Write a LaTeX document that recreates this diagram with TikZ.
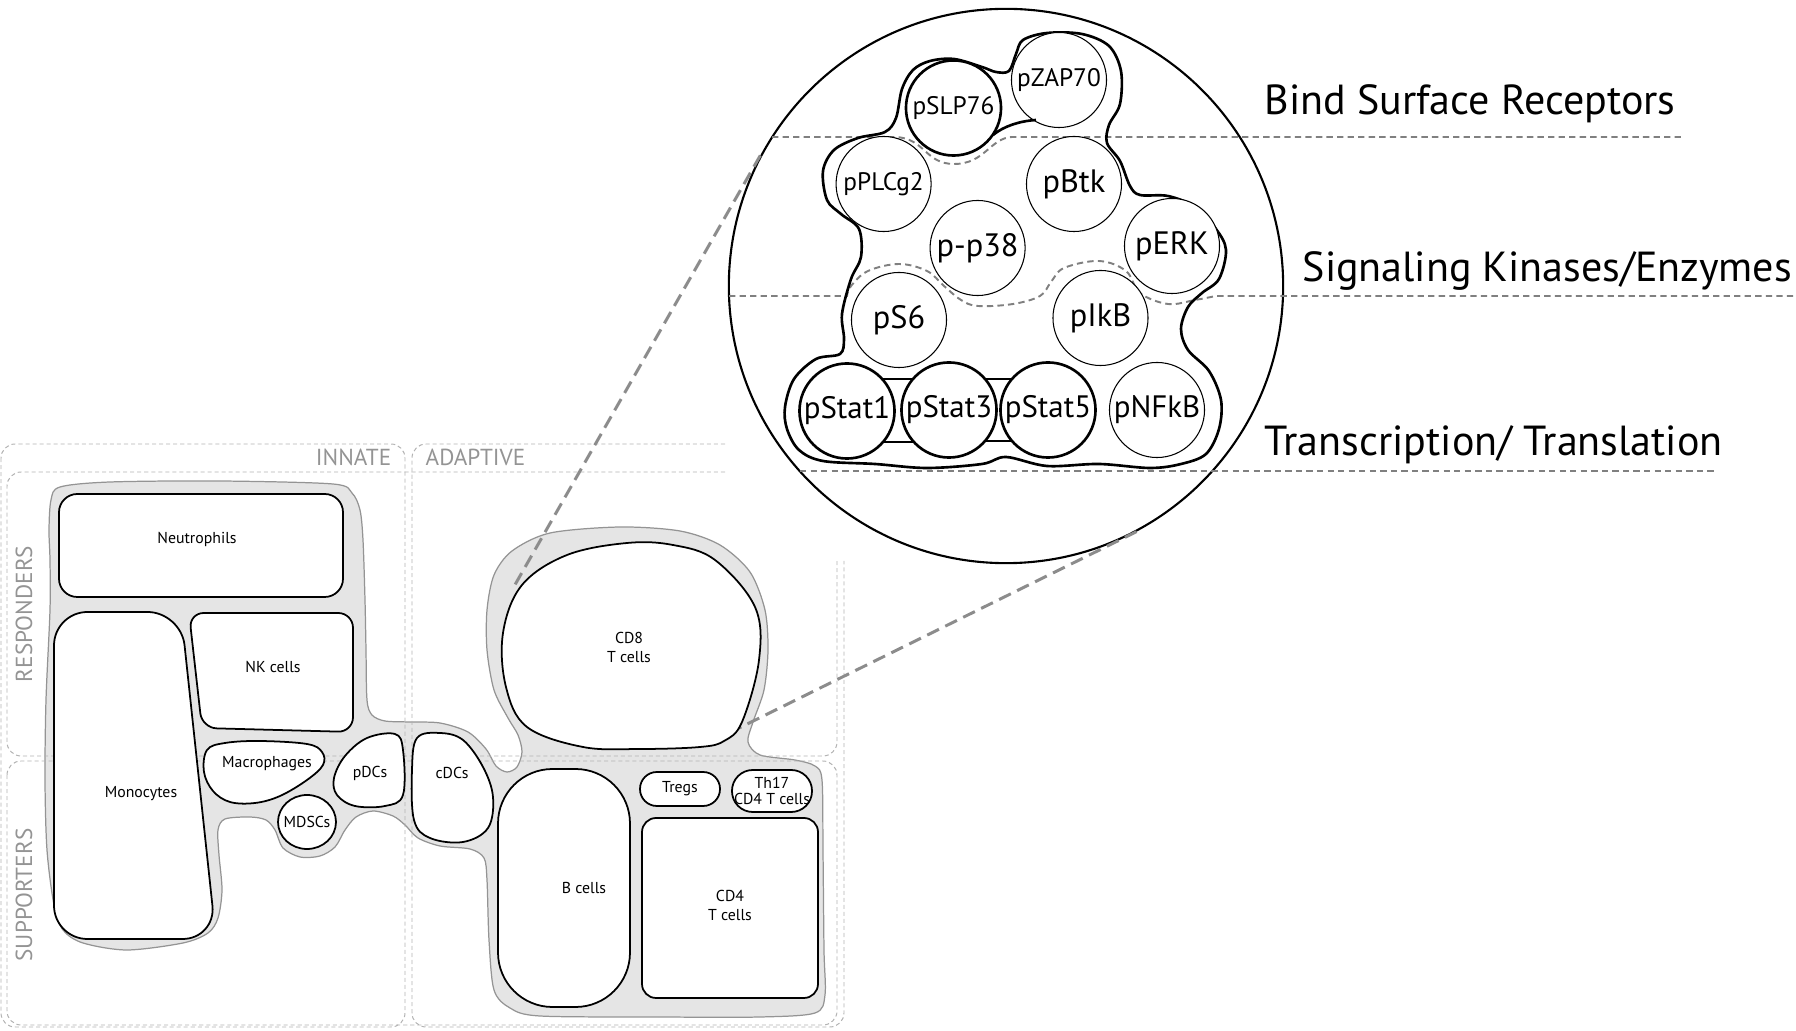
\documentclass[tikz,border=0pt]{standalone}
\usepackage{fontspec}
\setmainfont{PT Sans}
\begin{document}
\begin{tikzpicture}[x=0.01cm,y=-0.01cm,
  frameline/.style={draw=black!30, line width=0.28pt, dash pattern=on 1.15pt off 0.85pt},
  grouplabel/.style={text=black!42, font=\fontsize{6.6}{8}\selectfont, inner sep=0},
  blob/.style={fill=black!10, draw=black!42, line width=0.35pt},
  cell/.style={fill=white, draw=black, line width=0.5pt},
  celltext/.style={font=\fontsize{4.5}{5.4}\selectfont, align=center, inner sep=0},
  zoomline/.style={draw=black!45, line width=0.85pt, dash pattern=on 3.7pt off 2pt},
  layerline/.style={draw=black!50, line width=0.55pt, dash pattern=on 1.8pt off 1.2pt},
  prot/.style={circle, draw=black, fill=white, line width=0.3pt, minimum size=0.95cm, inner sep=0, font=\fontsize{9.2}{10}\selectfont},
  protsmall/.style={prot, font=\fontsize{7.2}{8}\selectfont},
  protstat/.style={prot, font=\fontsize{8.8}{10}\selectfont},
  protgroup/.style={line width=0.75pt},
  contour/.style={draw=black, line width=0.75pt},
  layertext/.style={font=\fontsize{11.95}{13}\selectfont, inner sep=0, anchor=base west},
]
\useasboundingbox (0,0) rectangle (1796,1031);

% ---------- connected tissue blob ----------
\draw[blob] plot[smooth cycle, tension=0.5] coordinates {
 (51,500) (60,487) (110,482) (220,481) (333,484) (352,493) (360,510) (363,540)
 (365,600) (366,650) (367,700) (372,715) (385,721) (410,722) (440,723) (468,732)
 (486,749) (496,766) (507,772) (517,767) (522,752) (518,735) (508,718) (494,690)
 (487,650) (487,610) (494,575) (512,551) (550,533) (620,527) (680,531) (720,545)
 (750,572) (765,610) (768,650) (764,690) (753,722) (748,742) (760,755) (795,760)
 (815,766) (822,780) (823,850) (824,950) (825,995) (815,1013) (760,1017) (658,1017)
 (540,1016) (510,1008) (494,990) (489,940) (487,880) (484,858) (470,849) (440,846)
 (418,838) (405,825) (393,816) (373,811) (356,817) (345,830) (335,847) (320,856)
 (300,857) (283,848) (275,830) (266,820) (250,817) (225,819) (218,830) (219,855)
 (222,890) (218,918) (208,933) (183,943) (127,950) (83,943) (63,930) (54,905)
 (47,850) (45,780) (46,700) (50,610) (50,560) (49,530)};

% ---------- category frames ----------
\draw[frameline, rounded corners=4pt] (1,444) rectangle (405,1027);
\draw[frameline, rounded corners=4pt] (725,444) -- (412,444) -- (412,1027) -- (844,1027) -- (844,561);
\draw[frameline, rounded corners=4pt] (725,472) -- (7,472) -- (7,756) -- (837,756) -- (837,561);
\draw[frameline, rounded corners=4pt] (7,761) rectangle (837,1025);

\node[grouplabel, anchor=base east] (innate) at (392,466) {INNATE};
\node[grouplabel, anchor=base west] (adaptive) at (425,466) {ADAPTIVE};
\node[grouplabel, rotate=90] (responders) at (24,614) {RESPONDERS};
\node[grouplabel, rotate=90] (supporters) at (24,895) {SUPPORTERS};

% ---------- magnified cell ----------
\node[circle, draw=black, line width=0.6pt, minimum size=5.54cm, inner sep=0] (lens) at (1006,286) {};

\coordinate (cdA) at (512,590);
\coordinate (cdB) at (727,734);
\draw[zoomline] (lens.152) -- (cdA);
\draw[zoomline] (lens.-62) -- (cdB);

% ---------- cell populations ----------
\draw[cell, rounded corners=5.2pt] (59,494) rectangle (343,597);
\node[celltext] (neutro) at (197,539) {Neutrophils};

\draw[cell, rounded corners=4.2pt] (189,613) -- (353,613) -- (353,732) -- (202,728) -- cycle;
\node[celltext] (nk) at (273,667) {NK cells};

\draw[cell, rounded corners=9.5pt] (54,612) -- (181,612) -- (216,939) -- (54,939) -- cycle;
\node[celltext] (mono) at (141,794) {Monocytes};

\draw[cell] plot[smooth cycle, tension=0.6] coordinates {
 (207,750) (225,743) (260,741) (307,744) (322,752) (323,765) (307,780) (280,796)
 (255,803) (230,802) (213,791) (204,772)};
\node[celltext] (macro) at (267,764) {Macrophages};

\draw[cell] (307,822) ellipse [x radius=29, y radius=27];
\node[celltext] (mdsc) at (307,822) {MDSCs};

\draw[cell] plot[smooth cycle, tension=0.6] coordinates {
 (367,738) (395,734) (403,750) (403,795) (385,806) (355,806) (337,795) (334,778) (345,756)};
\node[celltext] (pdc) at (370,773) {pDCs};

\draw[cell] plot[smooth cycle, tension=0.6] coordinates {
 (417,738) (440,733) (463,740) (483,767) (493,797) (488,828) (463,842) (430,838) (414,820) (412,770)};
\node[celltext] (cdc) at (452,773) {cDCs};

\draw[cell] plot[smooth cycle, tension=0.6] coordinates {
 (627,543) (567,555) (522,585) (503,633) (506,687) (527,727) (583,747) (640,749)
 (700,747) (724,741) (742,722) (759,660) (755,607) (715,560) (673,545)};
\node[celltext] (cd8) at (629,647) {CD8\\T cells};

\draw[cell, rounded corners=15.5pt] (498,769) rectangle (630,1007);
\node[celltext] (bcell) at (584,888) {B cells};

\draw[cell, rounded corners=4.8pt] (640,772) rectangle (720,806);
\node[celltext] (treg) at (680,789) {Tregs};

\draw[cell, rounded corners=5.9pt] (732,770) rectangle (812,812);
\node[celltext, font=\fontsize{4.5}{4.4}\selectfont] (th17) at (772,791) {Th17\\CD4 T cells};

\draw[cell, rounded corners=4pt] (642,818) rectangle (818,998);
\node[celltext] (cd4) at (730,905) {CD4\\T cells};

% ---------- signalling layers ----------
\draw[layerline] (772,137) -- (895,137) .. controls (925,138) and (925,164) .. (954,164)
  .. controls (985,164) and (990,138) .. (1012,137) -- (1685,137);
\draw[layerline] (729,296) -- plot[smooth, tension=0.6] coordinates {
 (847,296) (851,286) (868,271) (899,264) (927,271) (944,286) (961,300) (978,306)
 (1013,304) (1040,296) (1051,282) (1064,268) (1099,261) (1126,271) (1140,293)
 (1168,304) (1195,300) (1216,296)} -- (1796,296);
\draw[layerline] (800,471) -- (1717,471);

\node[layertext] (bind) at (1264,115) {Bind Surface Receptors};
\node[layertext] (kin) at (1302,282) {Signaling Kinases/Enzymes};
\node[layertext] (trans) at (1264,456) {Transcription/ Translation};

% ---------- cell outline ----------
\draw[contour] plot[smooth cycle, tension=0.55] coordinates {
 (785,407) (794,379) (816,359) (840,354) (844,339) (842,314) (851,279) (861,257)
 (859,229) (841,214) (827,200) (823,171) (834,150) (858,138) (885,132) (896,118)
 (902,89) (913,70) (930,61) (954,59) (982,67) (996,72) (1009,71) (1016,54)
 (1023,40) (1047,33) (1082,34) (1109,46) (1121,71) (1120,104) (1109,125) (1107,143)
 (1120,161) (1130,186) (1140,195) (1168,196) (1195,207) (1216,229) (1226,250)
 (1219,279) (1202,293) (1188,307) (1181,329) (1188,350) (1209,371) (1221,400)
 (1219,429) (1206,454) (1181,464) (1150,468) (1099,464) (1047,466) (1006,457)
 (982,464) (927,468) (875,464) (823,461) (799,450) (787,429)};

% ---------- phospho-proteins ----------
\node[protsmall, protgroup] (slp) at (953.5,108) {pSLP76};
\node[protsmall] (zap) at (1059,80) {pZAP70};
\node[protsmall] (plc) at (883.6,184) {pPLCg2};
\node[prot] (btk) at (1074,184) {pBtk};
\node[prot] (p38) at (977.6,248) {p-p38};
\node[prot] (erk) at (1172,246) {pERK};
\node[prot] (s6) at (899,320) {pS6};
\node[prot] (ikb) at (1100.5,318) {pIkB};
\node[protstat, protgroup] (stat1) at (847,411) {pStat1};
\node[protstat, protgroup] (stat3) at (949,410) {pStat3};
\node[protstat, protgroup] (stat5) at (1048,410) {pStat5};
\node[protstat] (nfkb) at (1157,410) {pNFkB};

% membrane-proximal pair and STAT cluster joins
\draw[contour] (993,135) .. controls (1004,126) and (1020,121) .. (1036,120);
\draw[contour] (882,379) -- (914,379);
\draw[contour] (984,379) -- (1013,379);
\draw[contour] (883,442) -- (913,442);
\draw[contour] (985,441) -- (1012,441);
\end{tikzpicture}
\end{document}
